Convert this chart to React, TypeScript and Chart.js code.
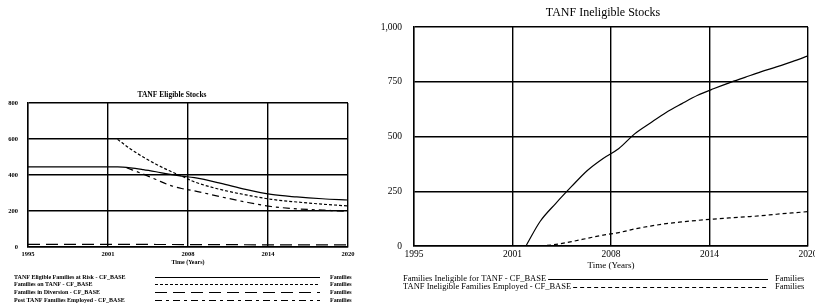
import React, { useEffect, useRef } from "react";
import { Chart, registerables } from "chart.js";

Chart.register(...registerables);

// ---------- shared axis data ----------
const X_TICK_VALUES = [1995, 2001.25, 2007.5, 2013.75, 2020];
const X_TICK_LABELS = ["1995", "2001", "2008", "2014", "2020"];
const X_AXIS_TITLE = "Time (Years)";
const UNITS = "Families";

// ---------- left chart: TANF Eligible Stocks ----------
const ELIGIBLE_TITLE = "TANF Eligible Stocks";
const eligibleNames = [
  "TANF Eligible Families at Risk - CF_BASE",
  "Families on TANF - CF_BASE",
  "Families in Diversion - CF_BASE",
  "Post TANF Families Employed - CF_BASE",
];
const atRiskYears = [1995, 1998, 2002, 2003, 2004, 2005, 2006, 2007, 2008, 2010, 2012, 2014, 2016, 2018, 2020];
const atRiskValues = [445, 445, 445, 440, 430, 418, 405, 394, 385, 355, 320, 292, 278, 268, 261];
const onTanfYears = [2002, 2003, 2004, 2005, 2006, 2007, 2008, 2010, 2012, 2014, 2016, 2018, 2020];
const onTanfValues = [598, 545, 500, 460, 425, 394, 362, 320, 290, 265, 250, 238, 228];
const diversionYears = [1995, 2000, 2005, 2010, 2015, 2020];
const diversionValues = [15, 15, 14, 13, 12, 12];
const postTanfYears = [2002.7, 2004, 2005, 2006, 2007, 2008, 2010, 2012, 2014, 2016, 2018, 2020];
const postTanfValues = [440, 405, 375, 345, 325, 312, 280, 250, 225, 212, 205, 198];
const eligibleYMax = 800;
const eligibleYStep = 200;

// ---------- right chart: TANF Ineligible Stocks ----------
const INELIGIBLE_TITLE = "TANF Ineligible Stocks";
const ineligibleNames = [
  "Families Ineligible for TANF - CF_BASE",
  "TANF Ineligible Families Employed - CF_BASE",
];
const ineligibleYears = [2002.1, 2003, 2004, 2005, 2006, 2007, 2008, 2009, 2010, 2011, 2012, 2013, 2014, 2015, 2016, 2017, 2018, 2019, 2020];
const ineligibleValues = [0, 112, 195, 272, 345, 400, 445, 512, 562, 610, 650, 688, 718, 745, 770, 795, 818, 842, 868];
const employedYears = [2003, 2004, 2005, 2006, 2007, 2008, 2009, 2010, 2011, 2012, 2013, 2014, 2015, 2016, 2017, 2018, 2019, 2020];
const employedValues = [0, 7, 20, 35, 50, 61, 78, 91, 102, 110, 117, 123, 128, 133, 138, 145, 151, 157];
const ineligibleYMax = 1000;
const ineligibleYStep = 250;

const pts = (xs: number[], ys: number[]) => xs.map((x, i) => ({ x, y: ys[i] }));

const decorPlugin = {
  id: "decor",
  afterDraw(chart: any, _args: any, opts: any) {
    const ctx = chart.ctx as CanvasRenderingContext2D;
    ctx.save();
    ctx.fillStyle = "#000";
    ctx.strokeStyle = "#000";
    ctx.font = opts.titleFont;
    ctx.textAlign = "center";
    ctx.textBaseline = "middle";
    ctx.fillText(opts.title, opts.titleX, opts.titleY);
    ctx.font = opts.legendFont;
    ctx.lineWidth = opts.legendLineWidth;
    chart.data.datasets.forEach((ds: any, i: number) => {
      const y = opts.rowY[i];
      ctx.textAlign = "left";
      ctx.fillText(ds.label, opts.textX, y);
      const x1 = opts.lineStart != null ? opts.lineStart : opts.textX + ctx.measureText(ds.label).width + 2;
      ctx.setLineDash(ds.borderDash || []);
      ctx.beginPath();
      ctx.moveTo(x1, y + 0.5);
      ctx.lineTo(opts.lineEnd, y + 0.5);
      ctx.stroke();
      ctx.setLineDash([]);
      ctx.fillText(opts.units, opts.unitsX, y);
    });
    ctx.restore();
  },
};

function makeOptions(p: {
  yMax: number;
  yStep: number;
  tickFont: any;
  titleFont: any;
  yWidth: number;
  yPad: number;
  xHeight: number;
  xPad: number;
  xTitlePadBottom: number;
  padding: any;
  gridWidth: number;
  decor: any;
}) {
  return {
    responsive: false,
    animation: false as const,
    devicePixelRatio: 1,
    layout: { padding: p.padding },
    plugins: {
      legend: { display: false },
      title: { display: false },
      tooltip: { enabled: false },
      decor: p.decor,
    },
    elements: { point: { radius: 0 } },
    scales: {
      x: {
        type: "linear" as const,
        min: 1995,
        max: 2020,
        afterBuildTicks: (s: any) => {
          s.ticks = X_TICK_VALUES.map((v) => ({ value: v }));
        },
        afterFit: (s: any) => {
          s.height = p.xHeight;
          s.paddingLeft = 0;
          s.paddingRight = 0;
        },
        ticks: {
          autoSkip: false,
          maxRotation: 0,
          padding: p.xPad,
          color: "#000",
          font: p.tickFont,
          callback: (_v: any, i: number) => X_TICK_LABELS[i],
        },
        grid: { color: "#000", lineWidth: p.gridWidth, drawTicks: false },
        border: { color: "#000", width: p.gridWidth },
        title: {
          display: true,
          text: X_AXIS_TITLE,
          color: "#000",
          font: p.titleFont,
          padding: { top: 0, bottom: p.xTitlePadBottom },
        },
      },
      y: {
        min: 0,
        max: p.yMax,
        afterFit: (s: any) => {
          s.width = p.yWidth;
          s.paddingTop = 0;
          s.paddingBottom = 0;
        },
        ticks: { stepSize: p.yStep, padding: p.yPad, color: "#000", font: p.tickFont },
        grid: { color: "#000", lineWidth: p.gridWidth, drawTicks: false },
        border: { color: "#000", width: p.gridWidth },
      },
    },
  };
}

function useChart(ref: React.RefObject<HTMLCanvasElement>, build: () => any) {
  useEffect(() => {
    if (!ref.current) return;
    const chart = new Chart(ref.current, build());
    return () => chart.destroy();
  }, []);
}

const SERIF = "'Liberation Serif', 'DejaVu Serif', serif";

export default function App() {
  const leftRef = useRef<HTMLCanvasElement>(null);
  const rightRef = useRef<HTMLCanvasElement>(null);

  useChart(leftRef, () => ({
    type: "line",
    data: {
      datasets: [
        { label: eligibleNames[0], data: pts(atRiskYears, atRiskValues), borderColor: "#000", borderWidth: 1.2, cubicInterpolationMode: "monotone" },
        { label: eligibleNames[1], data: pts(onTanfYears, onTanfValues), borderColor: "#000", borderWidth: 1.2, borderDash: [3, 2], cubicInterpolationMode: "monotone" },
        { label: eligibleNames[2], data: pts(diversionYears, diversionValues), borderColor: "#000", borderWidth: 1.2, borderDash: [12, 6], cubicInterpolationMode: "monotone" },
        { label: eligibleNames[3], data: pts(postTanfYears, postTanfValues), borderColor: "#000", borderWidth: 1.2, borderDash: [7, 4, 3, 4], cubicInterpolationMode: "monotone" },
      ],
    },
    options: makeOptions({
      yMax: eligibleYMax,
      yStep: eligibleYStep,
      tickFont: { family: SERIF, size: 6.5, weight: "bold" },
      titleFont: { family: SERIF, size: 6, weight: "bold" },
      yWidth: 28,
      yPad: 10,
      xHeight: 20,
      xPad: 3,
      xTitlePadBottom: 1,
      padding: { left: 0, top: 18, right: 12, bottom: 41 },
      gridWidth: 1.4,
      decor: {
        title: ELIGIBLE_TITLE,
        titleFont: `bold 7.5px ${SERIF}`,
        titleX: 172,
        titleY: 10,
        legendFont: `bold 6px ${SERIF}`,
        legendLineWidth: 1,
        rowY: [192, 199, 207, 215],
        textX: 14,
        lineStart: 155,
        lineEnd: 320,
        unitsX: 330,
        units: UNITS,
      },
    }),
    plugins: [decorPlugin],
  }));

  useChart(rightRef, () => ({
    type: "line",
    data: {
      datasets: [
        { label: ineligibleNames[0], data: pts(ineligibleYears, ineligibleValues), borderColor: "#000", borderWidth: 1.2, cubicInterpolationMode: "monotone" },
        { label: ineligibleNames[1], data: pts(employedYears, employedValues), borderColor: "#000", borderWidth: 1.2, borderDash: [4, 3], cubicInterpolationMode: "monotone" },
      ],
    },
    options: makeOptions({
      yMax: ineligibleYMax,
      yStep: ineligibleYStep,
      tickFont: { family: SERIF, size: 9.5 },
      titleFont: { family: SERIF, size: 9 },
      yWidth: 54,
      yPad: 12,
      xHeight: 26,
      xPad: 3,
      xTitlePadBottom: 1,
      padding: { left: 0, top: 27, right: 7, bottom: 36 },
      gridWidth: 1.4,
      decor: {
        title: INELIGIBLE_TITLE,
        titleFont: `12px ${SERIF}`,
        titleX: 243,
        titleY: 13,
        legendFont: `8.5px ${SERIF}`,
        legendLineWidth: 1,
        rowY: [279, 287],
        textX: 43,
        lineStart: null,
        lineEnd: 408,
        unitsX: 415,
        units: UNITS,
      },
    }),
    plugins: [decorPlugin],
  }));

  return (
    <div style={{ position: "absolute", left: 0, top: 0, width: 815, height: 308, background: "#fff", overflow: "hidden" }}>
      <canvas ref={leftRef} width={360} height={223} style={{ position: "absolute", left: 0, top: 85, width: 360, height: 223 }} />
      <canvas ref={rightRef} width={455} height={308} style={{ position: "absolute", left: 360, top: 0, width: 455, height: 308 }} />
    </div>
  );
}
